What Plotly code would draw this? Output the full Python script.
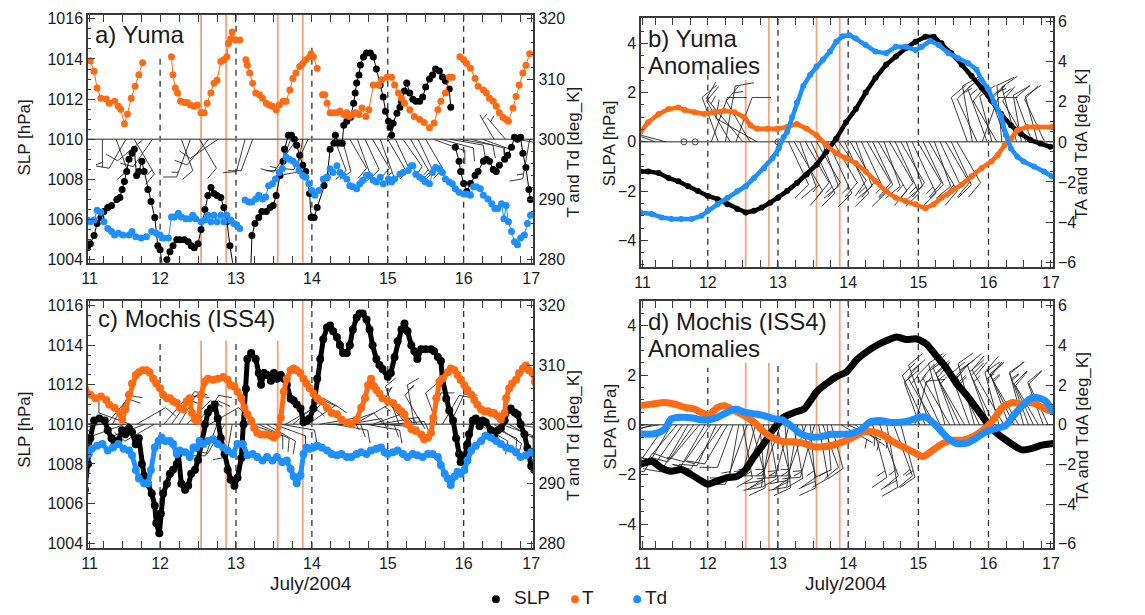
import math
import plotly.graph_objects as go

W, H = 1145, 615
FONT = "Liberation Sans, Arial, Helvetica, sans-serif"
BLACK = "#000000"
ORANGE = "#FF6A13"
BLUE = "#1E8FFF"
EVENT = "#F2A47C"
AXC = "#3a3a3a"
TXT = "#1a1a1a"

# ---------------- a) Yuma : surface observations ----------------
slp_a_time = [11.0, 11.04, 11.08, 11.13, 11.17, 11.22, 11.26, 11.31, 11.36, 11.43, 11.47, 11.50, 11.53, 11.56,
              11.59, 11.63, 11.66, 11.69, 11.72, 11.76, 11.79, 11.84, 11.88, 11.93, 11.97, 12.0, 12.04, 12.09,
              12.13, 12.17, 12.22, 12.26, 12.32, 12.37, 12.41, 12.45, 12.50, 12.54, 12.59, 12.63, 12.67, 12.71,
              12.75, 12.80, 12.84, 12.88, 12.92, 12.97, 13.19, 13.21, 13.25, 13.30, 13.34, 13.40, 13.45, 13.49,
              13.53, 13.58, 13.62, 13.64, 13.69, 13.73, 13.77, 13.80, 13.84, 13.88, 13.92, 13.97, 13.99, 14.03,
              14.07, 14.16, 14.20, 14.24, 14.29, 14.31, 14.35, 14.40, 14.42, 14.46, 14.51, 14.55, 14.57, 14.59,
              14.62, 14.64, 14.68, 14.72, 14.77, 14.81, 14.85, 14.90, 14.94, 14.97, 15.01, 15.03, 15.05, 15.07,
              15.12, 15.16, 15.18, 15.22, 15.25, 15.29, 15.33, 15.37, 15.42, 15.46, 15.50, 15.55, 15.59, 15.63,
              15.68, 15.72, 15.76, 15.81, 15.83, None, 15.89, 15.94, 15.96, 16.00, 16.04, 16.09, 16.15, 16.19,
              16.26, 16.30, 16.34, 16.39, 16.43, 16.47, 16.54, 16.58, 16.63, 16.67, 16.71, 16.75, 16.78, 16.82,
              16.86, 16.88]
slp_a = [1004.0, 1004.6, 1004.8, 1005.2, 1005.8, 1006.1, 1006.4, 1006.6, 1006.7, 1007.0, 1007.1, 1007.5, 1007.9,
         1008.4, 1009.0, 1009.3, 1009.5, 1008.2, 1008.4, 1008.9, 1008.4, 1007.5, 1006.9, 1006.1, 1004.7, 1004.5,
         1003.4, 1004.0, 1004.4, 1004.7, 1005.0, 1005.0, 1005.0, 1004.9, 1004.7, 1004.6, 1004.8, 1005.5, 1006.5,
         1007.2, 1007.6, 1007.3, 1007.2, 1007.1, 1006.6, 1005.9, 1004.7, 1003.5, 1003.0, 1005.2, 1005.8, 1006.1,
         1006.4, 1006.4, 1006.6, 1006.7, 1007.2, 1008.2, 1008.9, 1009.5, 1010.2, 1010.2, 1010.0, 1009.7, 1009.2,
         1008.7, 1008.4, 1007.3, 1006.1, 1006.1, 1006.6, 1007.7, 1008.1, 1009.5, 1009.8, 1010.2, 1009.8, 1009.8,
         1010.7, 1010.9, 1011.1, 1011.8, 1012.3, 1012.8, 1013.2, 1013.7, 1014.1, 1014.3, 1014.3, 1014.1, 1013.5,
         1012.7, 1012.1, 1011.4, 1010.9, 1010.6, 1010.2, 1010.8, 1011.3, 1011.6, 1011.9, 1012.4, 1012.8, 1012.3,
         1012.0, 1011.9, 1011.9, 1012.1, 1012.6, 1013.0, 1013.2, 1013.5, 1013.4, 1013.1, 1012.9, 1012.5, 1011.6,
         None, 1009.6, 1008.9, 1008.4, 1007.8, 1007.4, 1007.8, 1008.2, 1008.4, 1008.9, 1009.0, 1008.9, 1008.5,
         1008.4, 1008.7, 1009.0, 1009.2, 1009.6, 1010.1, 1010.0, 1010.1, 1009.3, 1008.6, 1007.5, 1007.0]

t_a_time = [11.08, 11.13, 11.17, 11.22, 11.29, 11.33, 11.40, 11.45, 11.48, 11.53, 11.57, 11.62, 11.67, 11.72, 11.77,
            None,
            12.15, 12.17, 12.20, 12.23, 12.27, 12.32, 12.36, 12.40, 12.45, 12.49, 12.54, 12.58, 12.62, 12.67, 12.71,
            12.75, 12.80, 12.84, 12.88, 12.90, 12.93, 12.95, 12.99, 13.05,
            None,
            13.13, 13.15, 13.18, 13.22, 13.26, 13.31, 13.35, 13.40, 13.44, 13.48, 13.53, 13.57, 13.62, 13.66, 13.71,
            13.75, 13.79, 13.84, 13.88, 13.92, 13.97, 13.99, 14.02, 14.07,
            None,
            14.14, 14.17, 14.20, 14.24, 14.29, 14.33, 14.37, 14.42, 14.46, 14.49, 14.54, 14.58, 14.62, 14.66, 14.71,
            14.75, 14.81, 14.88, 14.92, 14.99, 15.05, 15.09, 15.14, 15.18, 15.22, 15.29, 15.35, 15.42, 15.48, 15.55,
            15.61, 15.66, 15.70, 15.76, 15.81, 15.85,
            None,
            15.95, 16.00, 16.04, 16.09, 16.15, 16.19, 16.26, 16.30, 16.34, 16.39, 16.43, 16.47, 16.52, 16.56, 16.59,
            16.65, 16.69, 16.73, 16.78, 16.82, 16.87]
t_a = [313.0, 311.3, 308.5, 306.8, 306.7, 306.0, 306.3, 305.5, 305.0, 302.6, 304.2, 306.8, 308.8, 310.7, 312.7,
       None,
       313.7, 310.7, 308.5, 307.7, 306.3, 306.1, 306.1, 305.7, 305.5, 305.7, 304.4, 304.4, 306.0, 307.7, 309.3,
       309.8, 312.9, 313.2, 313.7, 315.9, 316.7, 317.8, 316.5, 316.5,
       None,
       313.2, 312.3, 311.0, 309.3, 307.7, 307.4, 306.8, 306.0, 305.7, 305.5, 304.9, 305.7, 306.3, 306.3, 308.2,
       310.1, 311.0, 312.1, 312.6, 313.2, 313.7, 314.2, 313.7, 311.8,
       None,
       307.4, 307.4, 306.0, 304.4, 304.4, 304.4, 304.7, 304.1, 304.4, 303.8, 304.1, 304.4, 304.1, 305.2, 303.8,
       304.9, 309.0, 309.0, 309.9, 310.3, 310.3, 309.0, 307.7, 306.8, 306.0, 304.9, 303.8, 303.3, 302.8, 301.9,
       302.7, 304.9, 306.3, 307.7, 310.3, 310.3,
       None,
       313.7, 313.2, 312.6, 311.8, 310.1, 308.8, 308.2, 307.7, 306.8, 306.3, 305.5, 304.4, 303.6, 303.3, 303.0,
       305.2, 307.1, 309.0, 311.0, 312.3, 314.2]

td_a_time = [11.0, 11.04, 11.08, 11.13, 11.17, 11.22, 11.26, 11.31, 11.36, 11.40, 11.45, 11.51, 11.59, 11.63, 11.68,
             11.75, 11.82, 11.89, 11.95, 12.0, 12.04, 12.11, 12.15, 12.19, 12.24, 12.28, 12.34, 12.39, 12.43, 12.47,
             12.54, 12.59, 12.63, 12.67, 12.71, 12.75, 12.80, 12.84, 12.88, 12.93, 12.97, 13.01, 13.05,
             None,
             13.12, 13.17, 13.21, 13.26, 13.30, 13.35, 13.39, 13.43, 13.48, 13.52, 13.57, 13.61, 13.66, 13.70, 13.75,
             13.79, 13.83, 13.88, 13.92, 13.96, 14.0, 14.04, 14.09, 14.15, 14.20, 14.24, 14.28, 14.33, 14.37, 14.41,
             14.46, 14.50, 14.54, 14.59, 14.63, 14.67, 14.72, 14.76, 14.81, 14.85, 14.90, 14.94, 15.01, 15.05, 15.09,
             15.16, 15.20, 15.27, 15.31, 15.33, 15.37, 15.42, 15.46, 15.50, 15.55, 15.59, 15.63, 15.68, 15.72, 15.76,
             15.81, 15.85, 15.89, 15.94, 16.0, 16.04, 16.09, 16.13, 16.17, 16.22, 16.26, 16.32, 16.37, 16.41, 16.45,
             16.50, 16.53, 16.56, 16.59, 16.63, 16.67, 16.71, 16.75, 16.80, 16.84, 16.88]
td_a = [285.2, 286.6, 286.3, 286.6, 288.2, 287.9, 286.3, 285.2, 284.7, 284.1, 284.4, 284.1, 284.1, 284.7, 283.8,
        283.6, 283.8, 284.7, 284.4, 284.1, 283.6, 283.6, 287.1, 287.1, 287.7, 287.1, 286.8, 286.8, 287.4, 286.8,
        286.3, 286.6, 287.4, 286.3, 287.4, 286.3, 287.4, 286.3, 287.4, 286.6, 286.0, 285.8, 285.2,
        None,
        289.9, 289.6, 289.6, 290.1, 290.7, 290.1, 290.4, 292.3, 292.6, 293.4, 294.5, 295.1, 297.0, 296.7, 296.4,
        295.9, 294.8, 294.0, 293.7, 292.6, 291.5, 290.7, 291.5, 293.4, 293.7, 295.1, 294.5, 295.6, 294.5, 294.0,
        293.4, 292.3, 292.1, 291.8, 292.6, 293.2, 294.0, 294.0, 293.2, 292.9, 293.7, 292.6, 293.4, 292.9, 293.4,
        294.2, 294.5, 294.8, 295.6, 295.6, 294.2, 293.7, 293.4, 292.9, 292.6, 294.5, 295.3, 295.1, 294.5, 293.4,
        292.9, 292.6, 291.8, 291.2, 290.9, 290.9, 290.7, 292.1, 292.1, 291.8, 290.7, 290.1, 289.3, 288.5, 288.5,
        289.3, 286.8, 289.0, 286.3, 284.7, 283.0, 282.5, 283.6, 284.1, 286.0, 287.4]

# winds at Yuma: time, direction (deg, from), speed (m/s)
wind_a_time = [11.03, 11.24, 11.42, 11.55, 11.66, 11.78, 11.90, 12.28, 12.40, 12.52, 12.64, 12.76, 13.12, 13.22,
               13.72, 13.80, 13.88, 13.95, 14.30, 14.40, 14.50, 14.60, 14.70, 14.80, 14.90, 15.00, 15.10, 15.20,
               15.30, 15.40, 15.50, 15.60, 15.70, 15.82, 15.95, 16.10, 16.25, 16.40, 16.55, 16.70, 16.87]
wind_a_dir = [200, 180, 160, 210, 150, 230, 215, 160, 200, 150, 220, 235, 195, 200, 200, 215, 190, 205, 160, 165,
              150, 160, 155, 150, 160, 150, 155, 145, 150, 155, 150, 110, 105, 100, 100, 105, 110, 330, 320, 100, 190]
wind_a_spd = [5, 3, 5, 5, 7.5, 5, 5, 5, 7.5, 5, 5, 5, 5, 5, 5, 7.5, 5, 5, 5, 5, 5, 7.5, 5, 5, 7.5, 5, 5, 5, 7.5, 5,
              5, 5, 5, 5, 5, 5, 3, 3, 3, 3, 7.5]

# ---------------- b) Yuma anomalies ----------------
slpa_b_time = [11.04, 11.15, 11.30, 11.44, 11.58, 11.72, 11.86, 12.0, 12.14, 12.28, 12.42, 12.54, 12.66, 12.77,
               12.89, 13.0, 13.13, 13.27, 13.41, 13.55, 13.69, 13.83, 13.97, 14.11, 14.25, 14.39, 14.54, 14.68,
               14.82, 14.96, 15.10, 15.22, 15.33, 15.47, 15.62, 15.76, 15.90, 16.04, 16.18, 16.32, 16.46, 16.60,
               16.74, 16.88]
slpa_b = [-1.2, -1.2, -1.27, -1.47, -1.6, -1.8, -2.0, -2.2, -2.33, -2.53, -2.73, -2.87, -2.8, -2.67, -2.47, -2.27,
          -2.0, -1.67, -1.33, -0.93, -0.4, 0.13, 0.8, 1.33, 2.0, 2.6, 3.13, 3.47, 3.8, 4.07, 4.27, 4.27, 4.0, 3.6,
          3.13, 2.67, 2.2, 1.67, 1.13, 0.67, 0.33, 0.07, -0.07, -0.2]
ta_b_time = [11.04, 11.15, 11.30, 11.44, 11.58, 11.67, 11.81, 11.95, 12.09, 12.23, 12.38, 12.52, 12.61, 12.70,
             12.85, 12.99, 13.13, 13.27, 13.41, 13.55, 13.69, 13.83, 13.97, 14.11, 14.25, 14.39, 14.54, 14.68,
             14.82, 14.96, 15.10, 15.22, 15.33, 15.47, 15.62, 15.76, 15.90, 16.04, 16.13, 16.23, 16.32, 16.41,
             16.55, 16.69, 16.90]
ta_b = [0.49, 0.98, 1.39, 1.64, 1.72, 1.6, 1.48, 1.39, 1.48, 1.56, 1.48, 1.23, 0.82, 0.66, 0.66, 0.66, 0.74, 0.9,
        0.66, 0.33, -0.16, -0.57, -0.82, -1.07, -1.48, -1.97, -2.46, -2.79, -2.95, -3.11, -3.31, -3.11, -2.79,
        -2.46, -2.13, -1.72, -1.31, -0.98, -0.66, -0.16, 0.16, 0.57, 0.74, 0.74, 0.74]
tda_b_time = [11.04, 11.20, 11.34, 11.48, 11.62, 11.77, 11.91, 12.0, 12.14, 12.28, 12.42, 12.54, 12.66, 12.80,
              12.92, 13.01, 13.08, 13.13, 13.20, 13.27, 13.36, 13.46, 13.55, 13.64, 13.74, 13.83, 13.92, 14.02,
              14.11, 14.25, 14.39, 14.54, 14.68, 14.82, 14.96, 15.05, 15.17, 15.29, 15.43, 15.57, 15.71, 15.83,
              15.90, 16.0, 16.08, 16.18, 16.25, 16.32, 16.41, 16.50, 16.65, 16.79, 16.90]
tda_b = [-3.52, -3.6, -3.77, -3.85, -3.85, -3.85, -3.69, -3.44, -3.11, -2.79, -2.46, -2.21, -1.8, -1.31, -0.82,
         -0.33, 0.25, 0.49, 1.23, 1.97, 2.79, 3.36, 3.77, 4.1, 4.51, 5.0, 5.28, 5.33, 5.16, 4.84, 4.51, 4.43, 4.75,
         4.75, 4.59, 4.75, 5.05, 4.84, 4.43, 4.18, 3.93, 3.61, 3.11, 2.62, 1.97, 1.31, 0.33, -0.33, -0.74, -0.98,
         -1.23, -1.48, -1.72]

wind_b_time = [11.10, 11.25, 11.40, 11.66, 11.82, 12.05, 12.15, 12.25, 12.32, 12.40, 12.50, 12.60, 12.70, 13.00,
               13.15, 13.23, 13.31, 13.39, 13.47, 13.55, 13.63, 13.71, 13.79, 13.87, 13.95, 14.03, 14.11, 14.19,
               14.27, 14.35, 14.43, 14.51, 14.59, 14.67, 14.75, 14.83, 14.91, 14.99, 15.07, 15.15, 15.23, 15.31,
               15.39, 15.47, 15.55, 15.70, 15.77, 15.84, 15.91, 15.98, 16.05, 16.12, 16.19, 16.26, 16.33, 16.40,
               16.47, 16.54, 16.62, 16.70, 16.80]
wind_b_dir = [285, 290, 285, 0, 0, 20, 340, 10, 330, 20, 320, 330, 300, 0,
              155, 150, 160, 150, 155, 150, 160, 155, 150, 145, 155, 150, 160, 155, 150, 155, 150, 160, 150, 155,
              150, 160, 155, 150, 155, 150, 160, 155, 150, 155, 150,
              340, 350, 335, 20, 340, 345, 330, 355, 340, 335, 345, 350, 330, 340, 345, 335]
wind_b_spd = [5, 5, 5, 0, 0, 5, 5, 7.5, 5, 5, 7.5, 5, 5, 0,
              5, 7.5, 5, 5, 7.5, 5, 5, 7.5, 5, 5, 7.5, 5, 5, 7.5, 5, 5, 7.5, 5, 5, 7.5, 5, 5, 7.5, 5, 5, 7.5, 5,
              5, 5, 5, 5,
              5, 7.5, 5, 5, 7.5, 5, 5, 7.5, 5, 5, 7.5, 5, 5, 5, 5, 5]

# ---------------- c) Mochis (ISS4) ----------------
slp_c_time = [11.01, 11.05, 11.08, 11.13, 11.20, 11.27, 11.31, 11.36, 11.40, 11.45, 11.50, 11.54, 11.59, 11.63,
              11.68, 11.72, 11.76, 11.79, 11.84, 11.89, 11.93, 11.95, 11.99, 12.01, 12.04, 12.09, 12.13, 12.17,
              12.22, 12.24, 12.28, 12.33, 12.37, 12.41, 12.46, 12.50, 12.54, 12.59, 12.63, 12.67, 12.72, 12.76,
              12.80, 12.85, 12.89, 12.93, 12.98, 13.02, 13.07, 13.10, 13.13, 13.15, 13.20, 13.26, 13.30, 13.33,
              13.37, 13.41, 13.46, 13.50, 13.54, 13.59, 13.63, 13.67, 13.72, 13.76, 13.80, 13.85, 13.89, 13.93,
              13.97, 14.02, 14.07, 14.11, 14.15, 14.20, 14.24, 14.28, 14.33, 14.37, 14.41, 14.46, 14.50, 14.54,
              14.59, 14.63, 14.67, 14.72, 14.76, 14.80, 14.85, 14.89, 14.93, 15.00, 15.04, 15.09, 15.13, 15.18,
              15.22, 15.26, 15.31, 15.35, 15.39, 15.44, 15.50, 15.57, 15.61, 15.66, 15.70, 15.72, 15.77, 15.81,
              15.86, 15.90, 15.94, 15.96, 16.01, 16.05, 16.07, 16.12, 16.16, 16.21, 16.25, 16.29, 16.36, 16.40,
              16.45, 16.49, 16.54, 16.58, 16.62, 16.67, 16.71, 16.75, 16.80, 16.84, 16.89, 16.93]
slp_c = [1006.7, 1008.0, 1009.3, 1010.2, 1010.3, 1010.2, 1009.7, 1009.3, 1009.1, 1009.2, 1009.7, 1009.5, 1009.8,
         1009.6, 1009.0, 1009.3, 1008.0, 1007.4, 1007.0, 1006.5, 1005.9, 1005.0, 1004.5, 1005.5, 1006.5, 1007.0,
         1007.5, 1007.7, 1008.0, 1008.5, 1007.0, 1006.7, 1006.9, 1007.5, 1007.7, 1008.2, 1009.0, 1010.0, 1010.6,
         1010.8, 1011.0, 1010.3, 1009.3, 1008.5, 1007.7, 1007.2, 1006.9, 1007.3, 1008.3, 1010.0, 1011.8, 1013.3,
         1013.6, 1013.3, 1012.6, 1012.0, 1012.6, 1012.5, 1012.2, 1012.6, 1012.3, 1012.5, 1012.3, 1012.0, 1011.3,
         1011.2, 1011.0, 1010.8, 1010.1, 1010.2, 1010.3, 1010.8, 1012.3, 1013.3, 1014.3, 1014.9, 1015.0, 1014.7,
         1014.4, 1014.0, 1013.6, 1013.6, 1014.0, 1014.8, 1015.4, 1015.6, 1015.6, 1015.3, 1014.8, 1014.0, 1013.3,
         1013.0, 1012.8, 1012.4, 1012.6, 1013.4, 1014.2, 1014.8, 1015.1, 1014.7, 1014.0, 1013.7, 1013.3, 1013.8,
         1013.8, 1013.8, 1013.7, 1013.4, 1013.2, 1012.3, 1011.3, 1010.7, 1010.2, 1009.3, 1008.5, 1008.1, 1008.3,
         1009.0, 1009.5, 1010.2, 1010.3, 1009.9, 1010.2, 1010.1, 1009.7, 1009.3, 1009.7, 1009.8, 1010.2, 1010.7,
         1010.8, 1010.6, 1010.5, 1010.0, 1009.5, 1008.8, 1007.9, 1007.7]

t_c_time = [11.01, 11.08, 11.15, 11.22, 11.29, 11.33, 11.40, 11.47, 11.50, 11.54, 11.59, 11.63, 11.68, 11.72, 11.77,
            11.82, 11.86, 11.91, 11.95, 12.0, 12.04, 12.09, 12.13, 12.17, 12.22, 12.26, 12.31, 12.35, 12.39, 12.42,
            12.46, 12.50, 12.54, 12.59, 12.63, 12.70, 12.76, 12.83, 12.89, 12.93, 12.98, 13.02, 13.07, 13.11, 13.15,
            13.20, 13.24, 13.28, 13.33, 13.37, 13.41, 13.46, 13.50, 13.54, 13.59, 13.63, 13.67, 13.72, 13.76, 13.80,
            13.85, 13.89, 13.93, 13.97, 14.02, 14.07, 14.13, 14.20, 14.26, 14.33, 14.39, 14.46, 14.52, 14.59, 14.65,
            14.70, 14.74, 14.78, 14.82, 14.85, 14.89, 14.93, 15.00, 15.07, 15.13, 15.18, 15.22, 15.26, 15.31, 15.37,
            15.44, 15.48, 15.53, 15.57, 15.60, 15.64, 15.68, 15.72, 15.79, 15.83, 15.88, 15.92, 15.96, 16.01, 16.05,
            16.10, 16.14, 16.18, 16.23, 16.27, 16.32, 16.36, 16.40, 16.45, 16.49, 16.54, 16.56, 16.60, 16.64, 16.69,
            16.73, 16.78, 16.82, 16.86, 16.91, 16.94]
t_c = [306.1, 305.0, 304.4, 304.7, 304.1, 303.3, 302.8, 301.9, 300.8, 302.5, 305.0, 306.9, 308.3, 308.8, 309.1,
       309.1, 308.8, 307.7, 306.9, 306.1, 305.0, 304.4, 304.4, 303.9, 303.6, 302.8, 302.5, 303.9, 304.4, 301.9,
       300.8, 300.6, 305.0, 307.2, 307.7, 307.5, 307.7, 308.0, 307.5, 306.6, 306.4, 305.5, 304.4, 302.8, 301.7,
       300.6, 299.4, 298.6, 298.3, 298.3, 298.3, 298.1, 297.8, 298.3, 301.1, 305.5, 307.7, 309.1, 309.4, 309.1,
       308.6, 307.7, 306.9, 306.1, 305.2, 304.4, 303.9, 302.8, 301.9, 301.7, 300.8, 300.3, 300.0, 300.8, 302.8,
       304.4, 306.6, 307.7, 306.4, 305.8, 305.2, 304.4, 303.9, 303.6, 302.8, 302.2, 301.7, 300.0, 299.2, 298.9,
       298.3, 297.5, 297.8, 298.6, 301.1, 304.4, 307.2, 307.7, 308.8, 309.4, 309.1, 308.3, 307.5, 306.6, 305.8,
       305.0, 304.1, 303.3, 302.5, 302.2, 302.2, 301.9, 301.9, 301.4, 300.8, 301.9, 304.4, 306.1, 306.9, 307.5,
       308.6, 309.4, 309.9, 309.1, 308.6, 307.2]

td_c_time = [11.01, 11.06, 11.10, 11.17, 11.24, 11.31, 11.38, 11.45, 11.52, 11.59, 11.63, 11.68, 11.72, 11.79,
             11.84, 11.88, 11.93, 11.98, 12.02, 12.07, 12.13, 12.17, 12.22, 12.26, 12.33, 12.39, 12.44, 12.48,
             12.52, 12.57, 12.63, 12.70, 12.76, 12.83, 12.89, 12.96, 13.02, 13.09, 13.15, 13.22, 13.28, 13.35,
             13.41, 13.48, 13.54, 13.61, 13.67, 13.72, 13.76, 13.80, 13.85, 13.89, 13.93, 13.97, 14.02, 14.07,
             14.13, 14.20, 14.26, 14.33, 14.39, 14.46, 14.52, 14.59, 14.65, 14.72, 14.78, 14.85, 14.91, 14.96,
             15.00, 15.07, 15.13, 15.20, 15.26, 15.33, 15.39, 15.46, 15.53, 15.59, 15.66, 15.70, 15.75, 15.79,
             15.83, 15.88, 15.92, 15.96, 16.01, 16.05, 16.10, 16.16, 16.23, 16.29, 16.36, 16.43, 16.49, 16.56,
             16.62, 16.69, 16.75, 16.82, 16.89, 16.94]
td_c = [294.2, 295.0, 295.9, 296.4, 296.7, 295.6, 296.1, 296.7, 295.9, 295.6, 294.8, 292.3, 290.9, 290.1, 290.1,
        292.3, 296.1, 297.2, 297.8, 297.2, 297.2, 296.7, 295.0, 295.6, 295.3, 294.5, 296.1, 296.1, 297.2, 296.7,
        297.2, 297.5, 296.7, 296.1, 295.6, 295.0, 296.7, 296.7, 294.8, 295.0, 294.5, 293.9, 294.5, 293.9, 294.5,
        293.6, 293.9, 292.5, 291.2, 290.1, 291.4, 295.0, 296.1, 295.9, 296.1, 296.4, 296.1, 295.6, 295.0, 294.8,
        295.0, 294.5, 294.5, 295.0, 295.3, 295.0, 295.6, 295.9, 296.1, 295.3, 295.0, 295.3, 295.6, 295.0, 294.5,
        295.0, 294.8, 294.5, 295.0, 295.0, 294.5, 293.1, 291.7, 290.9, 289.8, 291.2, 292.0, 291.7, 292.3, 293.9,
        295.6, 296.4, 297.2, 298.1, 297.8, 297.2, 296.7, 296.1, 295.9, 295.3, 294.5, 294.8, 295.3, 295.0]

wind_c_time = [11.05, 11.13, 11.21, 11.29, 11.37, 11.45, 11.53, 11.61, 11.69, 11.80, 11.92, 12.05, 12.15, 12.25,
               12.35, 12.45, 12.55, 12.65, 12.75, 12.85, 12.95, 13.20, 13.30, 13.40, 13.50, 13.60, 13.65, 13.75,
               13.85, 13.95, 14.10, 14.20, 14.30, 14.40, 14.48, 14.56, 14.64, 14.72, 14.80, 14.88, 14.96, 15.04,
               15.15, 15.25, 15.35, 15.45, 15.55, 15.65, 15.72, 15.82, 16.20, 16.30, 16.40, 16.50, 16.60, 16.70,
               16.88]
wind_c_dir = [280, 275, 260, 40, 30, 270, 250, 290, 60, 250, 240, 40, 35, 30, 45, 45, 30, 60, 200, 210, 190, 110,
              115, 120, 110, 100, 60, 50, 45, 55, 80, 90, 100, 70, 80, 60, 90, 100, 70, 80, 95, 85, 340, 320, 350,
              330, 20, 340, 30, 25, 120, 115, 125, 110, 120, 100, 45]
wind_c_spd = [5, 5, 5, 5, 5, 5, 5, 5, 5, 5, 5, 5, 7.5, 5, 5, 5, 5, 5, 5, 5, 5, 5, 5, 5, 5, 5, 5, 7.5, 5, 5, 5, 5,
              5, 5, 5, 7.5, 5, 5, 5, 7.5, 5, 5, 7.5, 5, 7.5, 5, 5, 5, 5, 5, 5, 5, 5, 5, 5, 5, 5]

# ---------------- d) Mochis (ISS4) anomalies ----------------
slpa_d_time = [11.03, 11.20, 11.34, 11.48, 11.62, 11.76, 11.91, 12.0, 12.14, 12.28, 12.42, 12.54, 12.66, 12.80,
               12.94, 13.08, 13.23, 13.37, 13.46, 13.56, 13.70, 13.84, 13.98, 14.12, 14.26, 14.41, 14.55, 14.69,
               14.83, 14.97, 15.11, 15.25, 15.40, 15.54, 15.68, 15.82, 15.96, 16.10, 16.25, 16.39, 16.48, 16.62,
               16.76, 16.93]
slpa_d = [-1.6, -1.47, -1.74, -1.87, -1.8, -2.0, -2.26, -2.39, -2.26, -2.13, -2.07, -1.8, -1.28, -0.75, -0.16,
          0.3, 0.5, 0.63, 0.96, 1.36, 1.68, 1.95, 2.14, 2.61, 2.93, 3.2, 3.39, 3.53, 3.43, 3.46, 3.26, 2.8, 2.28,
          1.68, 1.22, 0.7, 0.17, -0.29, -0.62, -0.88, -1.01, -0.95, -0.82, -0.75]
ta_d_time = [11.03, 11.20, 11.39, 11.53, 11.67, 11.81, 11.95, 12.02, 12.14, 12.24, 12.38, 12.52, 12.66, 12.80,
             12.94, 13.08, 13.23, 13.37, 13.51, 13.65, 13.79, 13.93, 14.08, 14.22, 14.36, 14.50, 14.64, 14.78,
             14.92, 15.07, 15.21, 15.35, 15.49, 15.63, 15.77, 15.92, 16.06, 16.20, 16.34, 16.48, 16.62, 16.76,
             16.93]
ta_d = [0.96, 1.04, 1.12, 1.04, 0.88, 0.79, 0.55, 0.51, 0.88, 0.96, 0.71, 0.46, 0.13, -0.36, -0.69, -0.86, -0.86,
        -0.94, -1.11, -1.11, -1.02, -0.86, -0.61, -0.36, -0.36, -0.53, -0.86, -1.11, -1.36, -1.6, -1.27, -0.94,
        -0.78, -0.78, -0.61, -0.28, 0.21, 0.88, 1.12, 1.04, 1.12, 0.88, 0.63]
tda_d_time = [11.03, 11.17, 11.29, 11.39, 11.48, 11.62, 11.76, 11.91, 12.02, 12.14, 12.28, 12.40, 12.52, 12.66,
              12.80, 12.94, 13.06, 13.18, 13.32, 13.46, 13.60, 13.75, 13.89, 14.03, 14.17, 14.31, 14.45, 14.59,
              14.74, 14.88, 15.02, 15.11, 15.25, 15.40, 15.54, 15.68, 15.82, 15.96, 16.10, 16.25, 16.34, 16.48,
              16.62, 16.72, 16.81, 16.93]
tda_d = [-0.45, -0.48, -0.41, -0.2, 0.3, 0.38, 0.35, 0.25, 0.25, 0.38, 0.63, 0.79, 0.63, 0.55, 0.46, 0.3, 0.25,
         -0.03, -0.45, -0.61, -0.61, -0.48, -0.48, -0.45, -0.28, 0.13, 0.21, 0.13, 0.13, 0.21, 0.38, 0.38, -0.03,
         -0.61, -0.94, -0.94, -0.69, -0.36, -0.2, -0.03, 0.38, 0.96, 1.37, 1.34, 1.21, 0.63]

wind_d_time = [11.10, 11.20, 11.30, 11.40, 11.48, 11.56, 11.64, 11.72, 11.80, 11.88, 11.96, 12.04, 12.12, 12.20,
               12.28, 12.36, 12.44, 12.50, 12.56, 12.62, 12.68, 12.74, 12.80, 12.86, 12.92, 12.98, 13.04, 13.10,
               13.16, 13.22, 13.28, 13.34, 13.40, 13.46, 13.52, 13.58, 13.64, 13.70, 13.76, 13.90, 14.00, 14.10,
               14.20, 14.35, 14.45, 14.55, 14.65, 14.75, 14.95, 15.02, 15.10, 15.17, 15.24, 15.31, 15.38, 15.45,
               15.52, 15.59, 15.66, 15.73, 15.80, 15.87, 15.94, 16.01, 16.08, 16.15, 16.22, 16.29, 16.36, 16.43,
               16.50, 16.57, 16.64, 16.71, 16.78, 16.85]
wind_d_dir = [255, 250, 260,
              215, 210, 220, 215, 210, 215, 220, 210, 215, 205, 215, 210, 200,
              190,
              170, 200, 165, 195, 175, 200, 170, 190, 165, 200, 175, 195, 170, 190, 165, 200, 175, 195, 170, 160,
              175, 165,
              120, 115, 125, 120,
              165, 160, 170, 160, 165,
              15, 340,
              335, 340, 330, 335, 345, 330, 340, 335, 330, 340, 345, 335, 330, 340, 335, 345, 330, 340, 335, 330,
              345, 340, 335, 330, 340, 335]
wind_d_spd = [5, 5, 5,
              5, 7.5, 5, 5, 7.5, 5, 5, 7.5, 5, 5, 7.5, 5, 5,
              7.5,
              7.5, 10, 7.5, 7.5, 10, 7.5, 7.5, 10, 7.5, 7.5, 10, 7.5, 7.5, 10, 7.5, 7.5, 10, 7.5, 7.5, 5, 5, 5,
              2.5, 2.5, 2.5, 2.5,
              7.5, 7.5, 10, 7.5, 7.5,
              5, 5,
              7.5, 10, 7.5, 7.5, 10, 7.5, 7.5, 10, 7.5, 7.5, 10, 7.5, 7.5, 10, 7.5, 7.5, 10, 7.5, 7.5, 10, 7.5,
              7.5, 5, 5, 5, 5]

# reference times: local midnights and event times
midnights = [12, 13, 14, 15, 16]
event_times = [12.54, 12.87, 13.55, 13.88]
day_labels = ["11", "12", "13", "14", "15", "16", "17"]

# ---------------- layout geometry (pixels: left, right, top, bottom) ----------------
FR = {"a": (82, 533, 11, 263), "b": (642, 1059, 14, 267),
      "c": (82, 533, 302, 553), "d": (642, 1059, 302, 553)}
XR = [11.05, 16.92]
YL = {"a": [1003.85, 1016.2], "b": [-5.07, 5.04], "c": [1003.75, 1016.23], "d": [-4.96, 4.98]}
YRt = {"a": [279.5, 320.67], "b": [-6.23, 6.2], "c": [279.17, 320.77], "d": [-6.21, 6.23]}
AX = {"a": ("x", "y", "y2"), "b": ("x2", "y3", "y4"), "c": ("x3", "y5", "y6"), "d": ("x4", "y7", "y8")}
BASE = {"a": 1010.0, "b": 0.0, "c": 1010.0, "d": 0.0}
STAFF = {"a": 34, "b": 48, "c": 34, "d": 46}

tick_pos = [11.07, 12, 13, 14, 15, 16, 16.89]


def px_scale(p):
    l, r, t, b = FR[p]
    return (r - l) / (XR[1] - XR[0]), (b - t) / (YL[p][1] - YL[p][0])


def barb_lines(p, times, dirs, spds):
    """Wind barbs: staff from the base line toward the direction the wind blows from,
    feathers at the outer end turned clockwise from the staff."""
    sx, sy = px_scale(p)
    base = BASE[p]
    xs, ys = [], []
    for t, d, s in zip(times, dirs, spds):
        if s <= 0:
            continue
        L = STAFF[p] * (0.6 + 0.08 * s)
        bl = 0.4 * STAFF[p]
        a = math.radians(d)
        ux, uy = math.sin(a), math.cos(a)
        xs += [t, t + ux * L / sx, None]
        ys += [base, base + uy * L / sy, None]
        b = math.radians(d + 70)
        bx, by = math.sin(b), math.cos(b)
        nfull = int(s // 5)
        half = (s - nfull * 5) >= 2.5
        step = 0.15 * STAFF[p]
        for k in range(nfull):
            dist = L - k * step
            px0, py0 = ux * dist, uy * dist
            xs += [t + px0 / sx, t + (px0 + bx * bl) / sx, None]
            ys += [base + py0 / sy, base + (py0 + by * bl) / sy, None]
        if half:
            dist = L - (nfull if nfull else 1) * step
            px0, py0 = ux * dist, uy * dist
            xs += [t + px0 / sx, t + (px0 + bx * bl * 0.5) / sx, None]
            ys += [base + py0 / sy, base + (py0 + by * bl * 0.5) / sy, None]
    return xs, ys


fig = go.Figure()


def add_barbs(p, times, dirs, spds):
    xn, yl, _ = AX[p]
    bx, by = barb_lines(p, times, dirs, spds)
    fig.add_trace(go.Scatter(x=bx, y=by, mode="lines", xaxis=xn, yaxis=yl,
                             line=dict(color="#262626", width=0.9), hoverinfo="skip", showlegend=False))


def add_series(p, x, y, color, right, style):
    xn, yl, yr = AX[p]
    ya = yr if right else yl
    if style == "obs":
        fig.add_trace(go.Scatter(x=x, y=y, mode="lines+markers", xaxis=xn, yaxis=ya,
                                 line=dict(color=color, width=1), marker=dict(color=color, size=7),
                                 connectgaps=False, showlegend=False))
    elif style == "dense":
        fig.add_trace(go.Scatter(x=x, y=y, mode="lines+markers", xaxis=xn, yaxis=ya,
                                 line=dict(color=color, width=5), marker=dict(color=color, size=8),
                                 showlegend=False))
    elif style == "beads":
        fig.add_trace(go.Scatter(x=x, y=y, mode="lines+markers", xaxis=xn, yaxis=ya,
                                 line=dict(color=color, width=4.5), marker=dict(color=color, size=6),
                                 showlegend=False))
    else:
        fig.add_trace(go.Scatter(x=x, y=y, mode="lines", xaxis=xn, yaxis=ya,
                                 line=dict(color=color, width=7, shape="spline", smoothing=0.6),
                                 showlegend=False))


# panel a
add_barbs("a", wind_a_time, wind_a_dir, wind_a_spd)
add_series("a", slp_a_time, slp_a, BLACK, False, "obs")
add_series("a", t_a_time, t_a, ORANGE, True, "obs")
add_series("a", td_a_time, td_a, BLUE, True, "obs")

# panel b
add_barbs("b", wind_b_time, wind_b_dir, wind_b_spd)
calm_t = [t for t, s in zip(wind_b_time, wind_b_spd) if s <= 0]
fig.add_trace(go.Scatter(x=calm_t, y=[BASE["b"]] * len(calm_t), mode="markers", xaxis="x2", yaxis="y3",
                         marker=dict(symbol="circle-open", size=6, color="#444", line=dict(width=1)),
                         showlegend=False))
add_series("b", slpa_b_time, slpa_b, BLACK, False, "beads")
add_series("b", ta_b_time, ta_b, ORANGE, True, "beads")
add_series("b", tda_b_time, tda_b, BLUE, True, "beads")

# panel c
add_barbs("c", wind_c_time, wind_c_dir, wind_c_spd)
add_series("c", slp_c_time, slp_c, BLACK, False, "dense")
add_series("c", t_c_time, t_c, ORANGE, True, "dense")
add_series("c", td_c_time, td_c, BLUE, True, "dense")

# panel d
add_barbs("d", wind_d_time, wind_d_dir, wind_d_spd)
add_series("d", slpa_d_time, slpa_d, BLACK, False, "smooth")
add_series("d", ta_d_time, ta_d, ORANGE, True, "smooth")
add_series("d", tda_d_time, tda_d, BLUE, True, "smooth")

# ---------------- axes ----------------
tickfont = dict(family=FONT, size=16, color=TXT)
layout = dict(width=W, height=H, margin=dict(l=0, r=0, t=0, b=0), autosize=False,
              paper_bgcolor="white", plot_bgcolor="white", showlegend=False)

left_ticks = {"a": (1004, 2, 0.5), "b": (-4, 2, 0.5), "c": (1004, 2, 0.5), "d": (-4, 2, 0.5)}
right_ticks = {"a": (280, 10, 2), "b": (-6, 2, 0.5), "c": (280, 10, 2), "d": (-6, 2, 0.5)}


def ax_key(name):
    return name[0] + "axis" + name[1:]


for p in "abcd":
    l, r, t, b = FR[p]
    xn, yl, yr = AX[p]
    layout[ax_key(xn)] = dict(
        domain=[l / W, r / W], anchor=yl, range=XR, tickmode="array", tickvals=tick_pos, ticktext=day_labels,
        ticks="inside", ticklen=7, tickwidth=1, tickcolor=AXC, showline=True, linecolor=AXC, linewidth=1.5,
        mirror="allticks", showgrid=False, zeroline=False, tickfont=tickfont,
        minor=dict(tickmode="linear", tick0=11, dtick=0.25, ticks="inside", ticklen=3, tickcolor=AXC))
    t0, dt, mdt = left_ticks[p]
    layout[ax_key(yl)] = dict(
        domain=[1 - b / H, 1 - t / H], anchor=xn, range=YL[p], tick0=t0, dtick=dt, side="left",
        ticks="inside", ticklen=7, tickcolor=AXC, showline=True, linecolor=AXC, linewidth=1.5,
        showgrid=False, zeroline=False, tickfont=tickfont,
        minor=dict(tick0=t0, dtick=mdt, ticks="inside", ticklen=3, tickcolor=AXC))
    t0, dt, mdt = right_ticks[p]
    layout[ax_key(yr)] = dict(
        overlaying=yl, anchor=xn, side="right", range=YRt[p], tick0=t0, dtick=dt,
        ticks="inside", ticklen=7, tickcolor=AXC, showline=True, linecolor=AXC, linewidth=1.5,
        showgrid=False, zeroline=False, tickfont=tickfont,
        minor=dict(tick0=t0, dtick=mdt, ticks="inside", ticklen=3, tickcolor=AXC))

fig.update_layout(**layout)

# ---------------- reference lines ----------------
# fraction of panel height reached by lines that stop short of the panel titles
midnight_top = {"a": [0.825, 1, 0.88, 1, 1], "b": [0.77, 1, 1, 1, 1],
                "c": [0.83, 0.83, 1, 1, 1], "d": [0.73, 0.74, 1, 1, 1]}
event_top = {"a": [1, 1, 1, 1], "b": [0.75, 1, 1, 1],
             "c": [0.84, 0.84, 0.84, 1], "d": [0.75, 0.75, 0.75, 1]}
for p in "abcd":
    xn, yl, _ = AX[p]
    fig.add_shape(type="line", xref=xn, yref=yl, x0=XR[0], x1=XR[1], y0=BASE[p], y1=BASE[p],
                  line=dict(color="#6e6e6e", width=1.5), layer="below")
    for xv, top in zip(midnights, midnight_top[p]):
        fig.add_shape(type="line", xref=xn, yref=yl + " domain", x0=xv, x1=xv, y0=0, y1=top,
                      line=dict(color="#333", width=1.3, dash="6px,5px"), layer="below")
    for xv, top in zip(event_times, event_top[p]):
        fig.add_shape(type="line", xref=xn, yref=yl + " domain", x0=xv, x1=xv, y0=0, y1=top,
                      line=dict(color=EVENT, width=1.8), layer="below")


# ---------------- text ----------------
def px(x):
    return x / W


def py(y):
    return 1 - y / H


def label(text, x, y, size, xanchor="left", angle=0, color=TXT):
    fig.add_annotation(text=text, x=px(x), y=py(y), xref="paper", yref="paper", showarrow=False,
                       xanchor=xanchor, yanchor="middle", textangle=angle,
                       font=dict(family=FONT, size=size, color=color))


label("a) Yuma", 87, 31, 24)
label("b) Yuma", 647, 35, 24)
label("Anomalies", 647, 62.5, 24)
label("c) Mochis (ISS4)", 90, 319.5, 24)
label("d) Mochis (ISS4)", 647, 323, 24)
label("Anomalies", 647, 350, 24)

label("SLP [hPa]", 18, 136, 17, "center", -90)
label("SLP [hPa]", 18, 433, 17, "center", -90)
label("T and Td [deg_K]", 574, 150, 17, "center", -90)
label("T and Td [deg_K]", 574, 438, 17, "center", -90)
label("SLPA [hPa]", 610, 142, 17, "center", -90)
label("SLPA [hPa]", 610, 430, 17, "center", -90)
label("TA and TdA [deg_K]", 1088, 142, 17, "center", -90)
label("TA and TdA [deg_K]", 1088, 430, 17, "center", -90)

label("July/2004", 308, 589, 19, "center")
label("July/2004", 849, 589, 19, "center")

# key for the three variables
for cx, color, text, tx in [(495, BLACK, "SLP", 511), (575, ORANGE, "T", 580), (638, BLUE, "Td", 644)]:
    fig.add_shape(type="circle", xref="paper", yref="paper", x0=px(cx - 4), x1=px(cx + 4),
                  y0=py(605 + 4), y1=py(605 - 4), fillcolor=color, line=dict(color=color, width=0))
    label(text, tx, 603, 19)

fig.write_html("out.html")
